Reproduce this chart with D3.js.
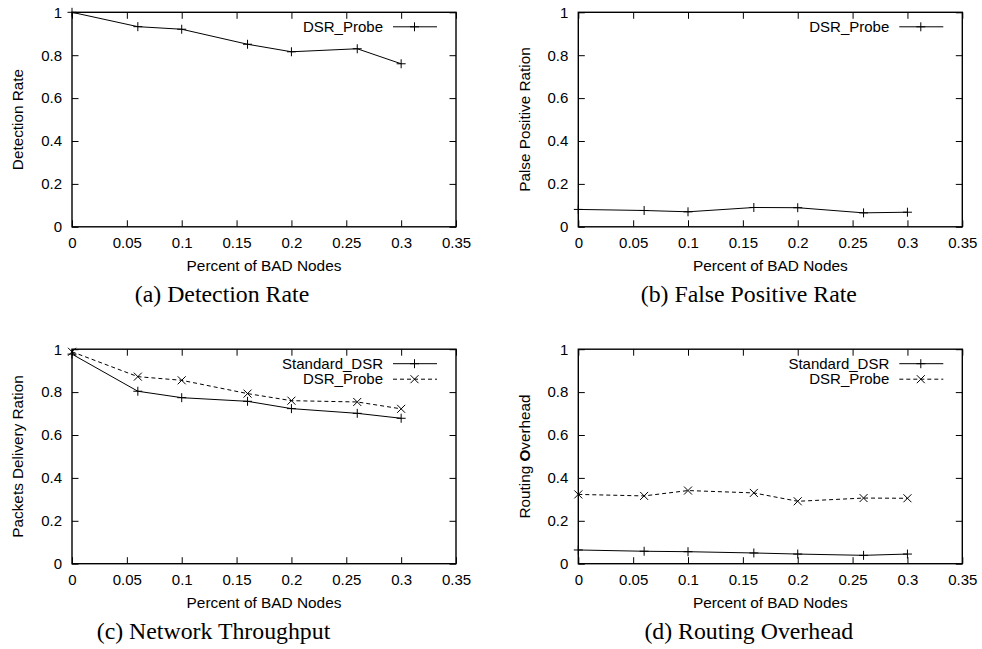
<!DOCTYPE html>
<html>
<head>
<meta charset="utf-8">
<script src="https://cdn.jsdelivr.net/npm/d3@7"></script>
<style>
  body { margin: 0; background: #fff; }
  .tick text { font-family: "Liberation Sans", Arial, sans-serif; font-size: 15px; fill: #000; }
  .tick line { stroke: #000; }
</style>
</head>
<body>
<div class="draw"></div>
<script>
// data
const badNodes = [0, 0.06, 0.1, 0.16, 0.2, 0.26, 0.3];
const detectionRate = [1.0, 0.933, 0.921, 0.851, 0.816, 0.830, 0.760];
const falsePositive = [0.081, 0.076, 0.070, 0.090, 0.089, 0.065, 0.068];
const throughputStandard = [0.977, 0.804, 0.774, 0.757, 0.723, 0.701, 0.678];
const throughputProbe = [0.988, 0.872, 0.855, 0.793, 0.760, 0.754, 0.722];
const overheadStandard = [0.064, 0.058, 0.056, 0.050, 0.045, 0.039, 0.045];
const overheadProbe = [0.323, 0.316, 0.341, 0.330, 0.291, 0.306, 0.305];

const xTicks = [0, 0.05, 0.1, 0.15, 0.2, 0.25, 0.3, 0.35];
const yTicks = [0, 0.2, 0.4, 0.6, 0.8, 1];

const svg = d3.select(".draw")
    .append("svg")
    .attr("width", 982)
    .attr("height", 649);

const panelWidth = 384;
const panelHeight = 214.5;
const tickLen = 6.5;
const sans = "Liberation Sans, Arial, sans-serif";

const panels = [
  { left: 72, top: 12.3, ylabel: ["Detection Rate"], caption: "(a) Detection Rate", captionX: 150,
    series: [{ name: "DSR_Probe", values: detectionRate, dashed: false, marker: "plus" }] },
  { left: 578.3, top: 12.3, ylabel: ["Palse Positive Ration"], caption: "(b) False Positive Rate", captionX: 170.5,
    series: [{ name: "DSR_Probe", values: falsePositive, dashed: false, marker: "plus" }] },
  { left: 72, top: 349.2, ylabel: ["Packets Delivery Ration"], caption: "(c) Network Throughput", captionX: 141.5,
    series: [
      { name: "Standard_DSR", values: throughputStandard, dashed: false, marker: "plus" },
      { name: "DSR_Probe", values: throughputProbe, dashed: true, marker: "cross" }
    ] },
  { left: 578.3, top: 349.2, ylabel: ["Routing ", "O", "verhead"], caption: "(d) Routing Overhead", captionX: 170.5,
    series: [
      { name: "Standard_DSR", values: overheadStandard, dashed: false, marker: "plus" },
      { name: "DSR_Probe", values: overheadProbe, dashed: true, marker: "cross" }
    ] }
];

function marker(g, type, cx, cy) {
  const path = g.append("path")
      .attr("stroke", "#000").attr("stroke-width", 1).attr("fill", "none");
  if (type === "plus") {
    const s = 4.5;
    path.attr("d", `M${cx - s},${cy}H${cx + s}M${cx},${cy - s}V${cy + s}`);
  } else {
    const s = 4;
    path.attr("d", `M${cx - s},${cy - s}L${cx + s},${cy + s}M${cx - s},${cy + s}L${cx + s},${cy - s}`);
  }
}

panels.forEach(p => {
  const graph = svg.append("g")
      .attr("transform", `translate(${p.left}, ${p.top})`);

  const x = d3.scaleLinear().domain([0, 0.35]).range([0, panelWidth]);
  const y = d3.scaleLinear().domain([0, 1]).range([panelHeight, 0]);

  // axes with inward ticks, mirrored on top and right
  const xAxis = d3.axisBottom(x).tickValues(xTicks).tickFormat(d3.format("~g"))
      .tickSizeInner(-tickLen).tickSizeOuter(0).tickPadding(11);
  const yAxis = d3.axisLeft(y).tickValues(yTicks).tickFormat(d3.format("~g"))
      .tickSizeInner(-tickLen).tickSizeOuter(0).tickPadding(10);

  graph.append("g").attr("transform", `translate(0, ${panelHeight})`).call(xAxis)
      .call(g => g.select(".domain").remove());
  graph.append("g").call(yAxis)
      .call(g => g.select(".domain").remove());
  graph.append("g")
      .call(d3.axisTop(x).tickValues(xTicks).tickFormat("").tickSizeInner(-tickLen).tickSizeOuter(0))
      .call(g => g.select(".domain").remove());
  graph.append("g").attr("transform", `translate(${panelWidth}, 0)`)
      .call(d3.axisRight(y).tickValues(yTicks).tickFormat("").tickSizeInner(-tickLen).tickSizeOuter(0))
      .call(g => g.select(".domain").remove());

  graph.append("rect")
      .attr("width", panelWidth).attr("height", panelHeight)
      .attr("fill", "none").attr("stroke", "#000").attr("stroke-width", 1.4);

  const line = d3.line()
      .x((d, i) => x(badNodes[i]))
      .y(d => y(d));

  p.series.forEach((s, k) => {
    graph.append("path")
        .datum(s.values)
        .attr("fill", "none")
        .attr("stroke", "#000")
        .attr("stroke-width", 1)
        .attr("stroke-dasharray", s.dashed ? "4,3" : null)
        .attr("d", line);
    s.values.forEach((v, i) => marker(graph, s.marker, x(badNodes[i]), y(v)));

    // legend
    const ly = 14.5 + k * 15.5;
    graph.append("text")
        .attr("x", 311).attr("y", ly)
        .attr("dy", "0.35em")
        .attr("text-anchor", "end")
        .style("font-family", sans)
        .style("font-size", "15px")
        .text(s.name);
    graph.append("line")
        .attr("x1", 321).attr("x2", 365).attr("y1", ly).attr("y2", ly)
        .attr("stroke", "#000").attr("stroke-width", 1)
        .attr("stroke-dasharray", s.dashed ? "4,3" : null);
    marker(graph, s.marker, 342.5, ly);
  });

  graph.append("text")
      .attr("x", panelWidth / 2).attr("y", panelHeight + 44)
      .attr("text-anchor", "middle")
      .style("font-family", sans)
      .style("font-size", "15.4px")
      .text("Percent of BAD Nodes");

  const yl = graph.append("text")
      .attr("transform", `translate(-54, ${panelHeight / 2}) rotate(-90)`)
      .attr("text-anchor", "middle")
      .attr("dy", "0.35em")
      .style("font-family", sans)
      .style("font-size", "15.3px");
  p.ylabel.forEach(part => {
    yl.append("tspan")
        .style("font-weight", part === "O" ? "bold" : null)
        .text(part);
  });

  graph.append("text")
      .attr("x", p.captionX).attr("y", panelHeight + 75)
      .attr("text-anchor", "middle")
      .style("font-family", "Liberation Serif, Times New Roman, serif")
      .style("font-size", "23.8px")
      .text(p.caption);
});
</script>
</body>
</html>
